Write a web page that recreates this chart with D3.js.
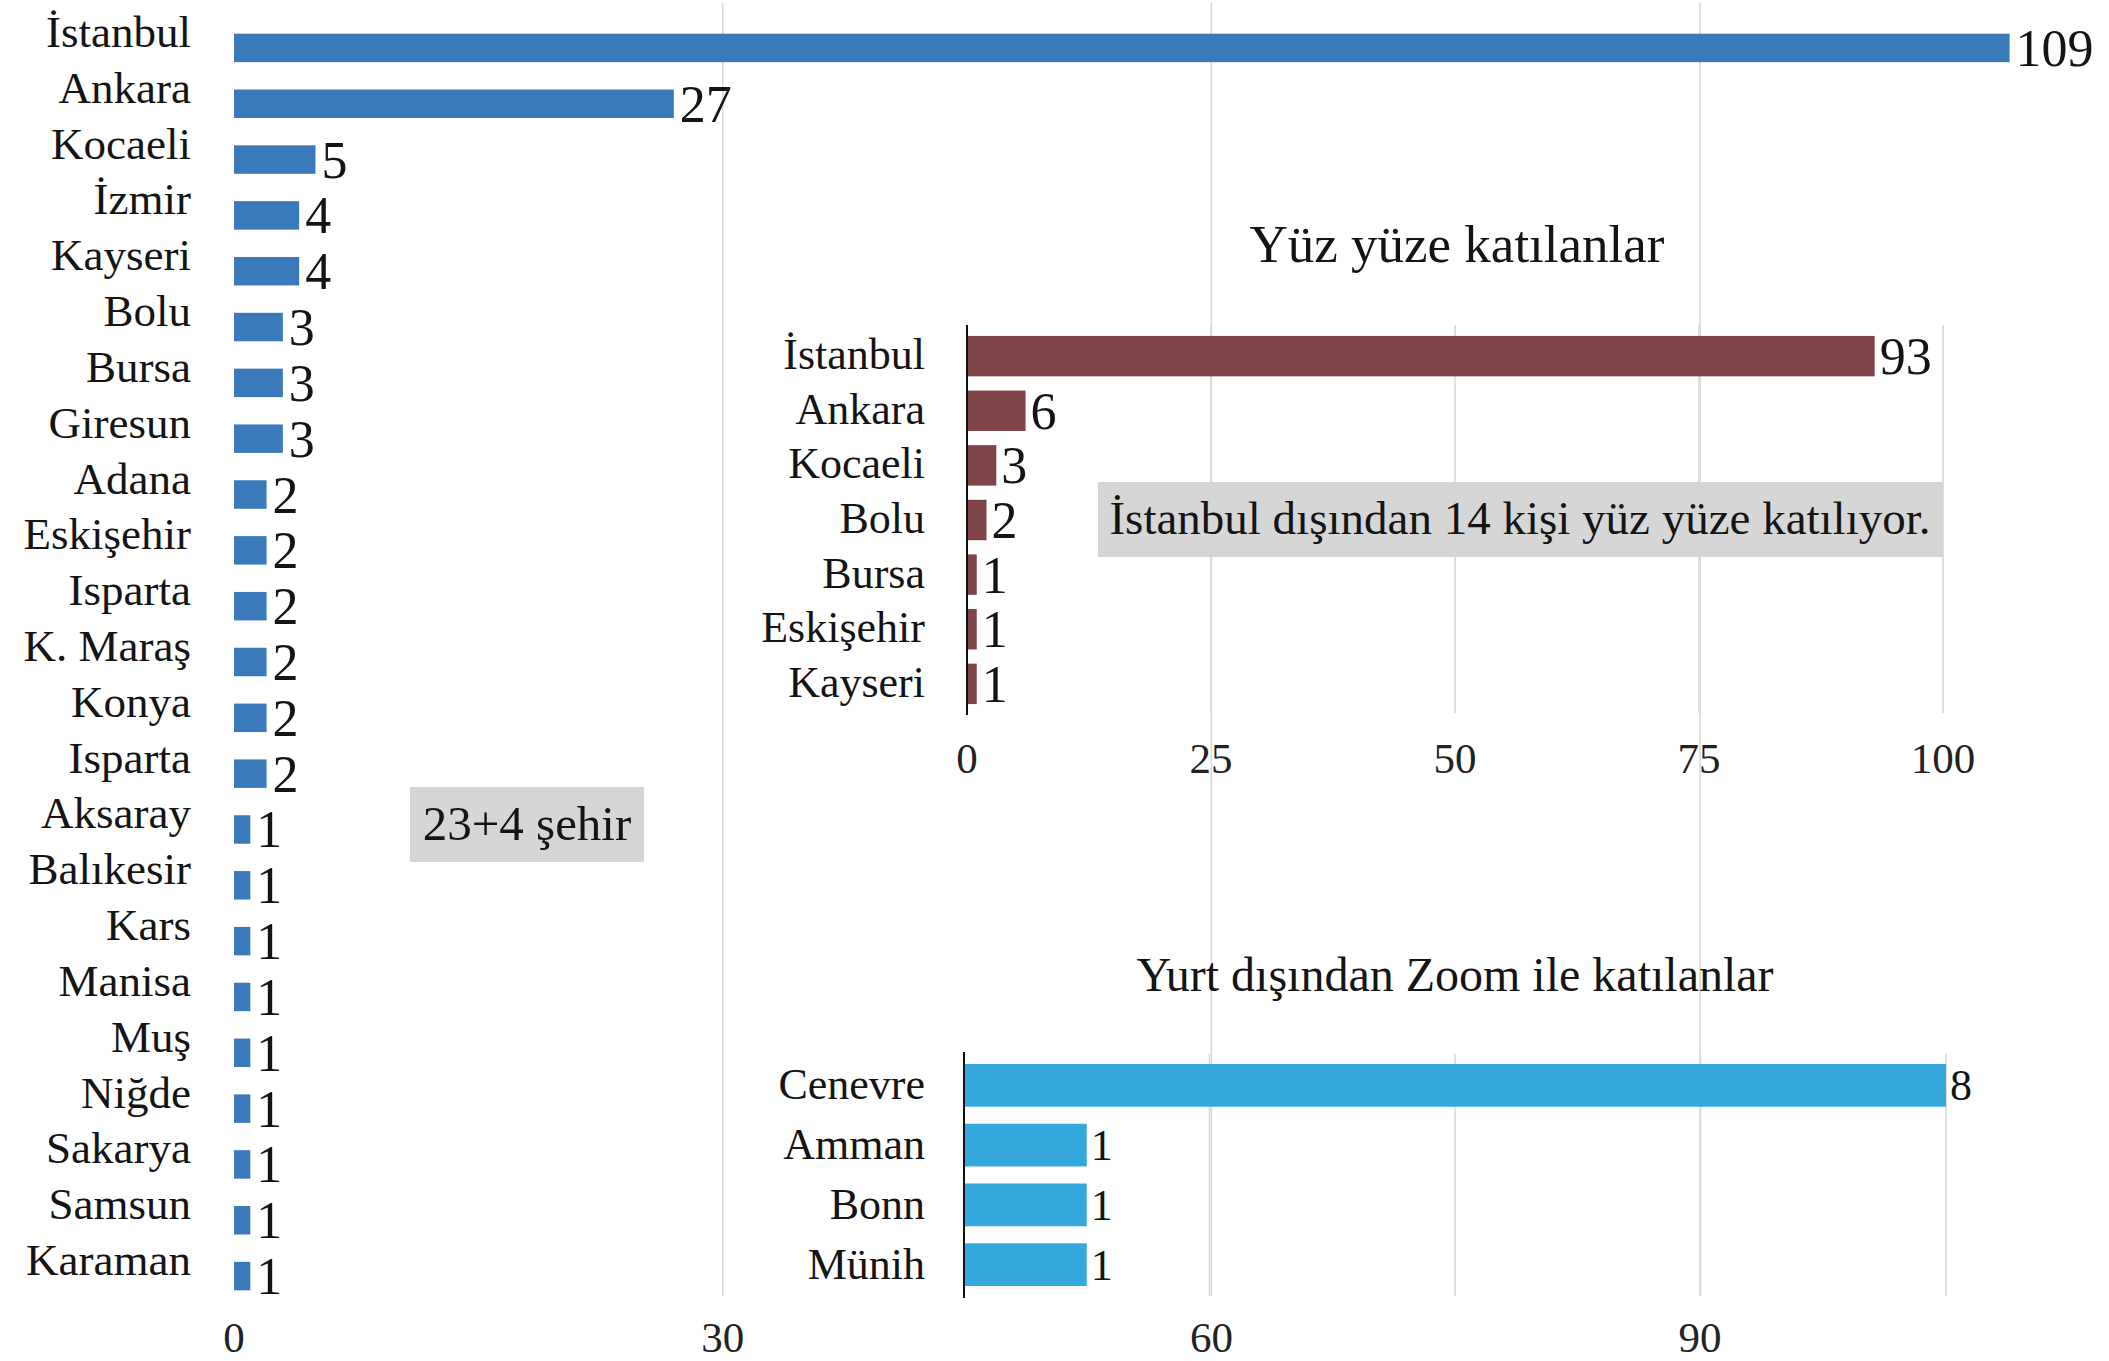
<!DOCTYPE html>
<html>
<head>
<meta charset="utf-8">
<script src="https://cdn.jsdelivr.net/npm/d3@7"></script>
<style>
  html, body { margin: 0; padding: 0; background: #ffffff; }
  svg text { font-family: 'Liberation Serif', 'Times New Roman', Times, 'DejaVu Serif', serif; }
</style>
</head>
<body>
<svg id="chart" width="2109" height="1361"></svg>
<script>
// ---- Data ----
const mainCities = ["İstanbul","Ankara","Kocaeli","İzmir","Kayseri","Bolu","Bursa","Giresun","Adana","Eskişehir","Isparta","K. Maraş","Konya","Isparta","Aksaray","Balıkesir","Kars","Manisa","Muş","Niğde","Sakarya","Samsun","Karaman"];
const mainValues = [109,27,5,4,4,3,3,3,2,2,2,2,2,2,1,1,1,1,1,1,1,1,1];
const mainTicks = [0,30,60,90];

const faceTitle = "Yüz yüze katılanlar";
const faceCities = ["İstanbul","Ankara","Kocaeli","Bolu","Bursa","Eskişehir","Kayseri"];
const faceValues = [93,6,3,2,1,1,1];
const faceTicks = [0,25,50,75,100];
const faceNote = "İstanbul dışından 14 kişi yüz yüze katılıyor.";

const zoomTitle = "Yurt dışından Zoom ile katılanlar";
const zoomCities = ["Cenevre","Amman","Bonn","Münih"];
const zoomValues = [8,1,1,1];
const zoomGrid = [2,4,6,8];

const mainNote = "23+4 şehir";

// ---- Drawing ----
const FONT = "'Liberation Serif', 'Times New Roman', Times, 'DejaVu Serif', serif";
const INK = "#141414";
const svg = d3.select("#chart").attr("font-family", FONT);
svg.append("rect").attr("width",2109).attr("height",1361).attr("fill","#ffffff");

const GRID = "#d9d9d9";

// ===== Main chart =====
const mx = d3.scaleLinear().domain([0,120]).range([234, 234 + 120*16.29]);
const my = d3.scaleBand().domain(d3.range(mainCities.length)).range([20,1304]).paddingInner(0.49).paddingOuter(0.245);

const mg = svg.append("g").attr("font-family", FONT);
mg.selectAll("line.grid").data(mainTicks.filter(d=>d>0)).join("line")
  .attr("x1",d=>mx(d)).attr("x2",d=>mx(d)).attr("y1",3).attr("y2",1296)
  .attr("stroke",GRID).attr("stroke-width",1.6);

mg.selectAll("rect.bar").data(mainValues).join("rect")
  .attr("x",mx(0)).attr("y",(d,i)=>my(i))
  .attr("width",d=>mx(d)-mx(0)).attr("height",my.bandwidth())
  .attr("fill","#3a7aba");

mg.selectAll("text.cat").data(mainCities).join("text")
  .attr("font-family", FONT)
  .attr("x",191).attr("y",(d,i)=>my(i)+my.bandwidth()/2 - 1)
  .attr("text-anchor","end").attr("font-size",45).attr("fill",INK)
  .text(d=>d);

mg.selectAll("text.val").data(mainValues).join("text")
  .attr("font-family", FONT)
  .attr("x",d=>mx(d)+6).attr("y",(d,i)=>my(i)+my.bandwidth()/2 + 18)
  .attr("font-size",52).attr("fill",INK)
  .text(d=>d);

mg.selectAll("text.tick").data(mainTicks).join("text")
  .attr("font-family", FONT)
  .attr("x",d=>mx(d)).attr("y",1352)
  .attr("text-anchor","middle").attr("font-size",43).attr("fill","#222")
  .text(d=>d);

// main note box
mg.append("rect").attr("x",410).attr("y",787).attr("width",234).attr("height",75).attr("fill","#d6d6d6");
mg.append("text").attr("font-family", FONT).attr("x",527).attr("y",840).attr("text-anchor","middle")
  .attr("font-size",49).attr("fill",INK).text(mainNote);

// ===== Inset 1: Yüz yüze =====
const fx = d3.scaleLinear().domain([0,100]).range([967,1943]);
const fy = d3.scaleBand().domain(d3.range(faceCities.length)).range([325,715]).paddingInner(0.26).paddingOuter(0.2);
const fg = svg.append("g").attr("font-family", FONT);

fg.append("text").attr("font-family", FONT).attr("x",1457).attr("y",262).attr("text-anchor","middle")
  .attr("font-size",53).attr("fill",INK).text(faceTitle);

fg.selectAll("line.grid").data(faceTicks.filter(d=>d>0)).join("line")
  .attr("x1",d=>fx(d)).attr("x2",d=>fx(d)).attr("y1",325).attr("y2",713)
  .attr("stroke",GRID).attr("stroke-width",1.6);

fg.selectAll("rect.bar").data(faceValues).join("rect")
  .attr("x",fx(0)).attr("y",(d,i)=>fy(i))
  .attr("width",d=>fx(d)-fx(0)).attr("height",fy.bandwidth())
  .attr("fill","#7f4448");

fg.append("line").attr("x1",fx(0)).attr("x2",fx(0)).attr("y1",325).attr("y2",715)
  .attr("stroke","#111").attr("stroke-width",2);

fg.selectAll("text.cat").data(faceCities).join("text")
  .attr("font-family", FONT)
  .attr("x",925).attr("y",(d,i)=>fy(i)+fy.bandwidth()/2 + 13)
  .attr("text-anchor","end").attr("font-size",44).attr("fill",INK)
  .text(d=>d);

fg.selectAll("text.val").data(faceValues).join("text")
  .attr("font-family", FONT)
  .attr("x",d=>fx(d)+5).attr("y",(d,i)=>fy(i)+fy.bandwidth()/2 + 18)
  .attr("font-size",52).attr("fill",INK)
  .text(d=>d);

fg.selectAll("text.tick").data(faceTicks).join("text")
  .attr("font-family", FONT)
  .attr("x",d=>fx(d)).attr("y",773)
  .attr("text-anchor","middle").attr("font-size",43).attr("fill","#222")
  .text(d=>d);

fg.append("rect").attr("x",1098).attr("y",482).attr("width",845).attr("height",75).attr("fill","#d6d6d6");
fg.append("text").attr("font-family", FONT).attr("x",1520).attr("y",534).attr("text-anchor","middle")
  .attr("font-size",47).attr("fill",INK).text(faceNote);

// ===== Inset 2: Zoom =====
const zx = d3.scaleLinear().domain([0,8]).range([964,1946]);
const zy = d3.scaleBand().domain(d3.range(zoomCities.length)).range([1052,1298]).paddingInner(0.285).paddingOuter(0.2);
const zg = svg.append("g").attr("font-family", FONT);

zg.append("text").attr("font-family", FONT).attr("x",1455).attr("y",991).attr("text-anchor","middle")
  .attr("font-size",48).attr("fill",INK).text(zoomTitle);

zg.selectAll("line.grid").data(zoomGrid).join("line")
  .attr("x1",d=>zx(d)).attr("x2",d=>zx(d)).attr("y1",1054).attr("y2",1296)
  .attr("stroke",GRID).attr("stroke-width",1.6);

zg.selectAll("rect.bar").data(zoomValues).join("rect")
  .attr("x",zx(0)).attr("y",(d,i)=>zy(i))
  .attr("width",d=>zx(d)-zx(0)).attr("height",zy.bandwidth())
  .attr("fill","#35a8dd");

zg.append("line").attr("x1",zx(0)).attr("x2",zx(0)).attr("y1",1052).attr("y2",1298)
  .attr("stroke","#111").attr("stroke-width",2);

zg.selectAll("text.cat").data(zoomCities).join("text")
  .attr("font-family", FONT)
  .attr("x",925).attr("y",(d,i)=>zy(i)+zy.bandwidth()/2 + 14)
  .attr("text-anchor","end").attr("font-size",44).attr("fill",INK)
  .text(d=>d);

zg.selectAll("text.val").data(zoomValues).join("text")
  .attr("font-family", FONT)
  .attr("x",d=>zx(d)+4).attr("y",(d,i)=>zy(i)+zy.bandwidth()/2 + 15)
  .attr("font-size",44).attr("fill",INK)
  .text(d=>d);
</script>
</body>
</html>
